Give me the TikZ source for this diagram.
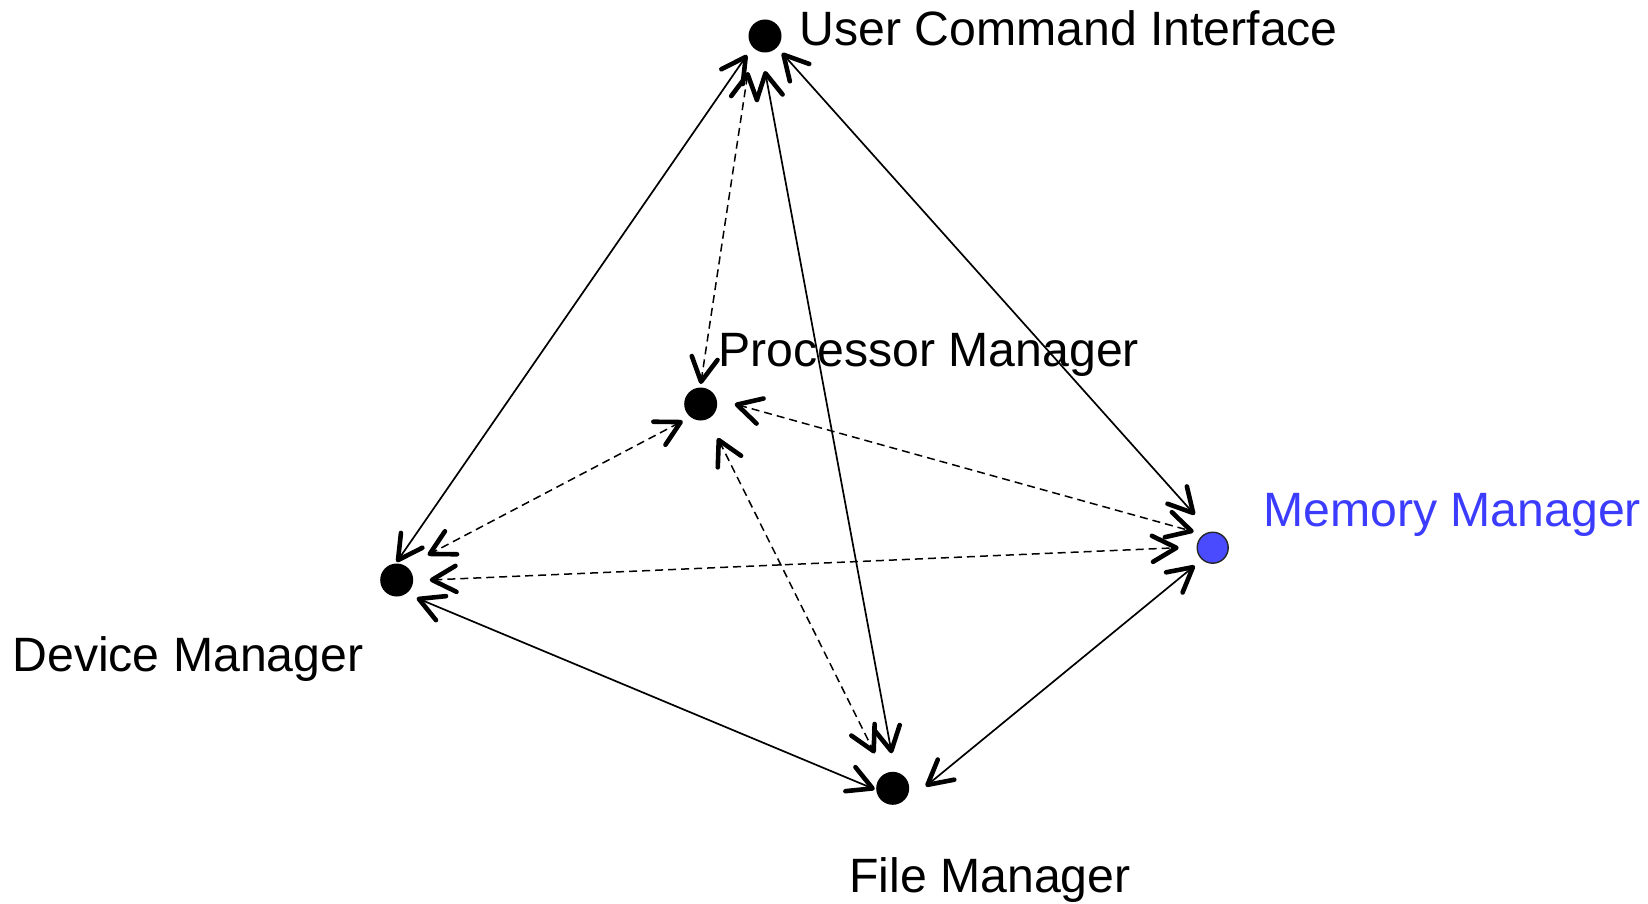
\documentclass[tikz,border=0pt]{standalone}
\usepackage{fontspec}
\setmainfont{Liberation Sans}
\usetikzlibrary{arrows.meta,calc}
\definecolor{memblue}{RGB}{60,60,255}
\definecolor{memfill}{RGB}{74,74,255}
\tikzset{
  dot/.style={circle,fill=black,inner sep=0pt,minimum size=16.5pt},
  memdot/.style={circle,fill=memfill,draw=black!85,line width=0.7pt,inner sep=0pt,minimum size=15.5pt},
  label/.style={anchor=base west,inner sep=0pt,font=\fontsize{24.1}{28}\selectfont},
  barb/.tip={Straight Barb[length=12pt,width=13pt,line width=2.3pt,round]},
  link/.style={line width=0.85pt,barb-barb},
  softlink/.style={line width=0.75pt,dash pattern=on 4pt off 2.5pt,barb-barb}
}
\begin{document}
\begin{tikzpicture}[x=0.5pt,y=-0.5pt]
\useasboundingbox (0,0) rectangle (1648,904);

% components
\node[dot]    (uci)  at (765,36)   {};
\node[dot]    (proc) at (700.7,404) {};
\node[dot]    (dev)  at (396.7,580) {};
\node[memdot] (mem)  at (1212.7,547.7) {};
\node[dot]    (file) at (892.7,788.3) {};

% names
\node[label] (ucit)  at (799,46)    {User Command Interface};
\node[label] (proct) at (718,366.7) {Processor Manager};
\node[label] (devt)  at (12,671.5)  {Device Manager};
\node[label,text=memblue] (memt) at (1263,526.7) {Memory Manager};
\node[label] (filet) at (849,892.7) {File Manager};

% direct links
\draw[link] ($(uci)+(-18,19)$) -- ($(dev)+(0,-18)$);
\draw[link] ($(uci)+(0,35)$)   -- ($(file)+(-1,-35)$);
\draw[link] ($(uci)+(17,17)$)  -- ($(mem)+(-18,-33)$);
\draw[link] ($(dev)+(20,18)$)  -- ($(file)+(-18,1)$);
\draw[link] ($(mem)+(-18,18)$) -- ($(file)+(33,-2)$);

% links through the processor and across
\draw[softlink] ($(uci)+(-17,36)$)  -- ($(proc)+(0,-20)$);
\draw[softlink] ($(proc)+(-18,17)$) -- ($(dev)+(31,-25)$);
\draw[softlink] ($(proc)+(34,0)$)   -- ($(mem)+(-19,-16)$);
\draw[softlink] ($(proc)+(17,34)$)  -- ($(file)+(-18,-35)$);
\draw[softlink] ($(dev)+(33,0)$)    -- ($(mem)+(-34,0)$);
\end{tikzpicture}
\end{document}
